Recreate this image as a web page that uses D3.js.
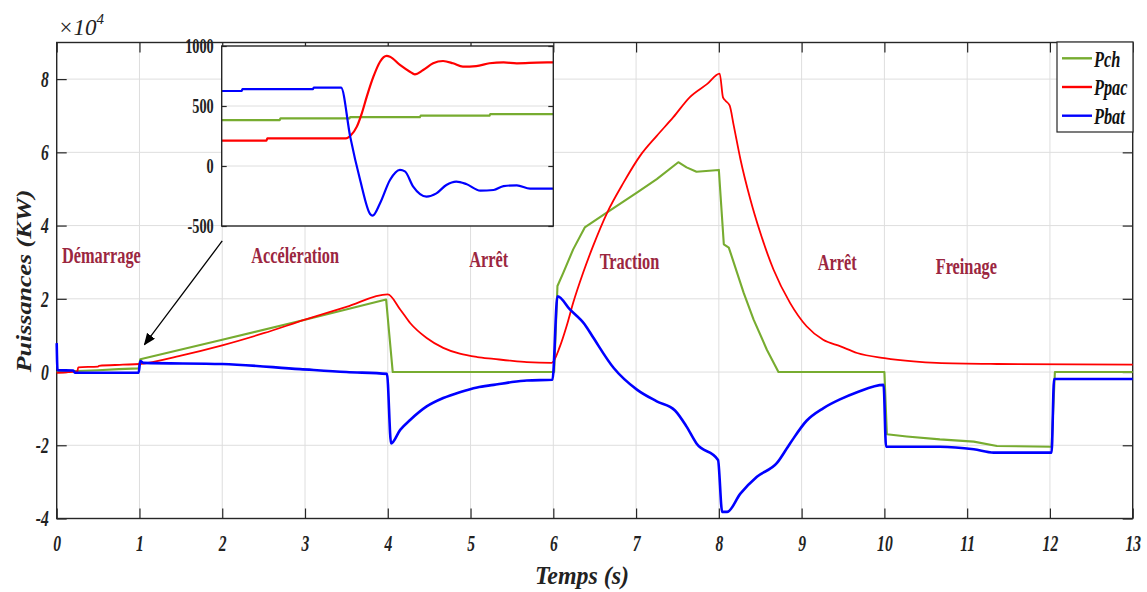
<!DOCTYPE html>
<html>
<head>
<meta charset="utf-8">
<script src="https://cdn.jsdelivr.net/npm/d3@7"></script>
<style>
  html, body { margin: 0; padding: 0; background: #fff; }
  svg { display: block; }
  text { font-family: "Liberation Serif", "Times New Roman", serif; }
</style>
</head>
<body>
<svg id="chart" width="1147" height="592"></svg>
<script>
// ---- Data (power in 10^4 W, time in s) ----
const xTickValues = [0, 1, 2, 3, 4, 5, 6, 7, 8, 9, 10, 11, 12, 13];
const xTickLabels = ["0", "1", "2", "3", "4", "5", "6", "7", "8", "9", "10", "11", "12", "13"];
const yTickValues = [-4, -2, 0, 2, 4, 6, 8];
const yTickLabels = ["-4", "-2", "0", "2", "4", "6", "8"];

const seriesNames = ["Pch", "Ppac", "Pbat"];

const pchTime  = [0, 0.05, 0.25, 0.5, 0.75, 0.99, 1.01, 2, 3, 3.98, 4.06, 6.01, 6.05, 6.12, 6.24, 6.38, 6.65, 7.01, 7.25, 7.51, 7.61, 7.73, 8.0, 8.03, 8.06, 8.12, 8.18, 8.3, 8.42, 8.58, 8.72, 10.0, 10.03, 10.27, 10.67, 11.08, 11.36, 12.02, 12.06, 13];
const pchValue = [0, 0.02, 0.03, 0.05, 0.08, 0.1, 0.35, 0.88, 1.43, 1.98, 0, 0, 2.35, 2.71, 3.35, 3.95, 4.36, 4.9, 5.27, 5.73, 5.59, 5.47, 5.52, 4.5, 3.49, 3.4, 2.99, 2.16, 1.43, 0.61, 0, 0, -1.7, -1.76, -1.84, -1.9, -2.02, -2.04, 0, 0];

const ppacTime  = [0, 0.25, 0.26, 0.5, 0.51, 0.8, 1.0, 1.5, 2, 2.5, 3, 3.5, 4.0, 4.15, 4.27, 4.47, 4.67, 4.87, 5.08, 5.28, 5.48, 5.68, 5.98, 6.08, 6.16, 6.24, 6.36, 6.48, 6.65, 6.85, 7.05, 7.25, 7.45, 7.65, 7.86, 8.01, 8.05, 8.08, 8.13, 8.18, 8.26, 8.38, 8.5, 8.66, 8.86, 9.06, 9.26, 9.47, 9.67, 10.0, 10.35, 10.63, 11.36, 13];
const ppacValue = [-0.02, 0.02, 0.13, 0.15, 0.17, 0.2, 0.22, 0.45, 0.73, 1.06, 1.43, 1.78, 2.12, 1.71, 1.34, 0.93, 0.66, 0.5, 0.41, 0.36, 0.31, 0.27, 0.25, 0.7, 1.25, 1.89, 2.71, 3.44, 4.35, 5.18, 5.91, 6.45, 6.96, 7.51, 7.87, 8.15, 7.5, 7.41, 7.28, 6.73, 5.82, 4.72, 3.81, 2.8, 1.89, 1.25, 0.88, 0.7, 0.52, 0.38, 0.29, 0.25, 0.22, 0.2];

const pbatTime  = [0, 0.01, 0.2, 0.22, 0.99, 1.01, 1.05, 2, 2.94, 3.5, 3.99, 4.04, 4.15, 4.27, 4.47, 4.67, 4.87, 5.08, 5.28, 5.48, 5.68, 5.99, 6.05, 6.2, 6.38, 6.48, 6.73, 7.01, 7.25, 7.47, 7.61, 7.73, 7.99, 8.04, 8.1, 8.26, 8.46, 8.7, 8.86, 9.06, 9.26, 9.47, 9.67, 9.99, 10.02, 10.67, 11.08, 11.32, 12.02, 12.05, 13];
const pbatValue = [0.79, 0.05, 0.04, -0.02, -0.02, 0.3, 0.25, 0.22, 0.08, 0.0, -0.05, -1.95, -1.58, -1.31, -0.94, -0.71, -0.55, -0.42, -0.35, -0.28, -0.23, -0.21, 2.07, 1.71, 1.3, 0.95, 0.11, -0.48, -0.8, -1.05, -1.49, -1.95, -2.4, -3.82, -3.82, -3.32, -2.86, -2.49, -1.95, -1.33, -0.99, -0.74, -0.55, -0.35, -2.04, -2.04, -2.11, -2.2, -2.2, -0.19, -0.19];

// Zoomed view of the transition (power in W, relative time)
const zoomTickValues = [-500, 0, 500, 1000];
const zoomTickLabels = ["-500", "0", "500", "1000"];

const zoomPchTime  = [0, 0.7, 0.71, 1.54, 1.55, 2.39, 2.4, 3.23, 3.24, 4];
const zoomPchValue = [383, 383, 397, 397, 408, 408, 419, 419, 433, 433];

const zoomPpacTime  = [0, 0.54, 0.55, 1.5, 1.55, 1.63, 1.69, 1.75, 1.83, 1.91, 1.99, 2.03, 2.15, 2.27, 2.33, 2.43, 2.55, 2.67, 2.79, 2.91, 3.07, 3.23, 3.4, 3.56, 3.8, 4];
const zoomPpacValue = [211, 211, 230, 230, 250, 328, 439, 578, 744, 869, 917, 911, 842, 786, 764, 800, 856, 875, 856, 828, 833, 856, 864, 856, 861, 864];

const zoomPbatTime  = [0, 0.24, 0.25, 1.1, 1.11, 1.44, 1.55, 1.67, 1.79, 1.82, 1.91, 2.03, 2.15, 2.21, 2.31, 2.47, 2.59, 2.71, 2.83, 2.95, 3.12, 3.28, 3.4, 3.56, 3.72, 4];
const zoomPbatValue = [625, 625, 640, 640, 653, 653, 245, -117, -400, -414, -311, -117, -33, -45, -172, -255, -228, -158, -130, -150, -205, -200, -167, -161, -189, -189];

// Driving phases annotated on the plot
const phaseNames = ["Démarrage", "Accélération", "Arrêt", "Traction", "Arrêt", "Freinage"];

// ---- Layout ----
const svg = d3.select("#chart");
const SX = 0.68;               // horizontal glyph compression of the figure text
const colors = ["#77AC30", "#FF0000", "#0000FF"];
const widths = [2.1, 1.8, 2.6];
// load power is piecewise linear; the source powers are smooth transients
const curves = [d3.curveLinear, d3.curveMonotoneX, d3.curveMonotoneX];
const frameColor = "#262626";
const gridColor = "#dedede";
const phaseColor = "#9b2640";

const x = d3.scaleLinear().domain([0, 13]).range([56.7, 1132.7]);
const y = d3.scaleLinear().domain([-4, 9]).range([518.5, 42.5]);

const plot = svg.append("g");

// Grid
plot.append("g").selectAll("line").data(xTickValues).join("line")
  .attr("x1", d => x(d)).attr("x2", d => x(d))
  .attr("y1", y(-4)).attr("y2", y(9))
  .attr("stroke", gridColor).attr("stroke-width", 1);
plot.append("g").selectAll("line").data(yTickValues).join("line")
  .attr("x1", x(0)).attr("x2", x(13))
  .attr("y1", d => y(d)).attr("y2", d => y(d))
  .attr("stroke", gridColor).attr("stroke-width", 1);

// Axes with inward ticks on all four sides
const tickLen = 10;
function styleAxis(g) {
  g.select(".domain").remove();
  g.selectAll(".tick line").attr("stroke", frameColor).attr("stroke-width", 1.2);
}
const xb = plot.append("g").attr("transform", `translate(0,${y(-4)})`)
  .call(d3.axisBottom(x).tickValues(xTickValues).tickSize(-tickLen)
        .tickFormat((d, i) => xTickLabels[i]).tickPadding(16));
styleAxis(xb);
xb.selectAll(".tick text")
  .attr("font-size", 23).attr("font-style", "italic").attr("font-weight", "bold")
  .attr("fill", "#222").attr("font-family", "Liberation Serif, serif")
  .attr("transform", `scale(${SX},1)`);

plot.append("g").attr("transform", `translate(0,${y(9)})`)
  .call(d3.axisTop(x).tickValues(xTickValues).tickSize(-tickLen).tickFormat(""))
  .call(styleAxis);

const yl = plot.append("g").attr("transform", `translate(${x(0)},0)`)
  .call(d3.axisLeft(y).tickValues(yTickValues).tickSize(-tickLen)
        .tickFormat((d, i) => yTickLabels[i]));
styleAxis(yl);
yl.selectAll(".tick text")
  .attr("x", null)
  .attr("font-size", 23).attr("font-style", "italic").attr("font-weight", "bold")
  .attr("fill", "#222").attr("font-family", "Liberation Serif, serif")
  .attr("transform", `translate(-8,0) scale(${SX},1)`);

plot.append("g").attr("transform", `translate(${x(13)},0)`)
  .call(d3.axisRight(y).tickValues(yTickValues).tickSize(-tickLen).tickFormat(""))
  .call(styleAxis);

// Frame
plot.append("rect")
  .attr("x", x(0)).attr("y", y(9))
  .attr("width", x(13) - x(0)).attr("height", y(-4) - y(9))
  .attr("fill", "none").attr("stroke", frameColor).attr("stroke-width", 1.4);

// Exponent marker
const expo = svg.append("text")
  .attr("x", 58).attr("y", 35)
  .attr("font-style", "italic").attr("fill", "#222");
expo.append("tspan").attr("font-size", 23).text("×10");
expo.append("tspan").attr("font-size", 15).attr("dy", -11).text("4");

// Curves
const times = [pchTime, ppacTime, pbatTime];
const values = [pchValue, ppacValue, pbatValue];
seriesNames.forEach((name, i) => {
  const line = d3.line().x(d => x(d[0])).y(d => y(d[1])).curve(curves[i]);
  plot.append("path")
    .datum(d3.zip(times[i], values[i]))
    .attr("d", line)
    .attr("fill", "none")
    .attr("stroke", colors[i])
    .attr("stroke-width", widths[i])
    .attr("stroke-linejoin", "round");
});

// Phase annotations (anchored in data coordinates)
const phaseAnchor = [[0.54, 2.99], [2.88, 2.99], [5.22, 2.86], [6.92, 2.82], [9.43, 2.78], [10.99, 2.67]];
phaseNames.forEach((name, i) => {
  svg.append("text")
    .attr("transform", `translate(${x(phaseAnchor[i][0])},${y(phaseAnchor[i][1])}) scale(${SX},1)`)
    .attr("text-anchor", "middle")
    .attr("font-size", 24).attr("font-weight", "bold")
    .attr("fill", phaseColor)
    .text(name);
});

// Axis titles
svg.append("text")
  .attr("transform", `translate(582,584) scale(0.92,1)`)
  .attr("text-anchor", "middle")
  .attr("font-size", 26).attr("font-weight", "bold").attr("font-style", "italic")
  .attr("fill", "#222")
  .text("Temps (s)");
svg.append("text")
  .attr("transform", `translate(31,281) scale(0.8,1) rotate(-90)`)
  .attr("text-anchor", "middle")
  .attr("font-size", 26).attr("font-weight", "bold").attr("font-style", "italic")
  .attr("fill", "#222")
  .text("Puissances (KW)");

// Arrow from the zoomed view to the transition at t = 1 s
svg.append("defs").append("marker")
  .attr("id", "head").attr("viewBox", "0 0 12 10")
  .attr("refX", 11).attr("refY", 5)
  .attr("markerWidth", 12).attr("markerHeight", 10)
  .attr("markerUnits", "userSpaceOnUse")
  .attr("orient", "auto")
  .append("path").attr("d", "M0,0 L12,5 L0,10 Z").attr("fill", "#000");
svg.append("line")
  .attr("x1", x(2.0)).attr("y1", y(3.58))
  .attr("x2", x(1.06)).attr("y2", y(0.75))
  .attr("stroke", "#000").attr("stroke-width", 1.3)
  .attr("marker-end", "url(#head)");

// ---- Zoomed view ----
const ix = d3.scaleLinear().domain([0, 4]).range([221.7, 553.3]);
const iy = d3.scaleLinear().domain([-500, 1000]).range([226, 46]);
const inset = svg.append("g");
inset.append("rect")
  .attr("x", ix(0)).attr("y", iy(1000))
  .attr("width", ix(4) - ix(0)).attr("height", iy(-500) - iy(1000))
  .attr("fill", "#fff");
inset.append("g").selectAll("line").data([0, 500]).join("line")
  .attr("x1", ix(0)).attr("x2", ix(4))
  .attr("y1", d => iy(d)).attr("y2", d => iy(d))
  .attr("stroke", gridColor).attr("stroke-width", 1);

const iyl = inset.append("g").attr("transform", `translate(${ix(0)},0)`)
  .call(d3.axisLeft(iy).tickValues(zoomTickValues).tickSize(-5)
        .tickFormat((d, i) => zoomTickLabels[i]));
styleAxis(iyl);
iyl.selectAll(".tick text")
  .attr("x", null)
  .attr("font-size", 21).attr("font-weight", "bold")
  .attr("fill", "#222").attr("font-family", "Liberation Serif, serif")
  .attr("transform", `translate(-8,0) scale(${SX},1)`);
inset.append("g").attr("transform", `translate(${ix(4)},0)`)
  .call(d3.axisRight(iy).tickValues(zoomTickValues).tickSize(-5).tickFormat(""))
  .call(styleAxis);

const ztimes = [zoomPchTime, zoomPpacTime, zoomPbatTime];
const zvalues = [zoomPchValue, zoomPpacValue, zoomPbatValue];
seriesNames.forEach((name, i) => {
  const iline = d3.line().x(d => ix(d[0])).y(d => iy(d[1])).curve(curves[i]);
  inset.append("path")
    .datum(d3.zip(ztimes[i], zvalues[i]))
    .attr("d", iline)
    .attr("fill", "none")
    .attr("stroke", colors[i])
    .attr("stroke-width", 2.2)
    .attr("stroke-linejoin", "round");
});
inset.append("rect")
  .attr("x", ix(0)).attr("y", iy(1000))
  .attr("width", ix(4) - ix(0)).attr("height", iy(-500) - iy(1000))
  .attr("fill", "none").attr("stroke", frameColor).attr("stroke-width", 1.4);

// ---- Legend ----
const lg = svg.append("g").attr("transform", "translate(1057,42)");
lg.append("rect").attr("width", 76).attr("height", 90)
  .attr("fill", "#fff").attr("stroke", frameColor).attr("stroke-width", 1.2);
seriesNames.forEach((name, i) => {
  const yy = 16.3 + i * 28.7;
  lg.append("line").attr("x1", 5).attr("x2", 35).attr("y1", yy).attr("y2", yy)
    .attr("stroke", colors[i]).attr("stroke-width", 2.4);
  lg.append("text")
    .attr("transform", `translate(37,${yy}) scale(${SX},1)`)
    .attr("dy", "0.35em")
    .attr("font-size", 24).attr("font-weight", "bold").attr("font-style", "italic")
    .attr("fill", "#111")
    .text(name);
});
</script>
</body>
</html>
